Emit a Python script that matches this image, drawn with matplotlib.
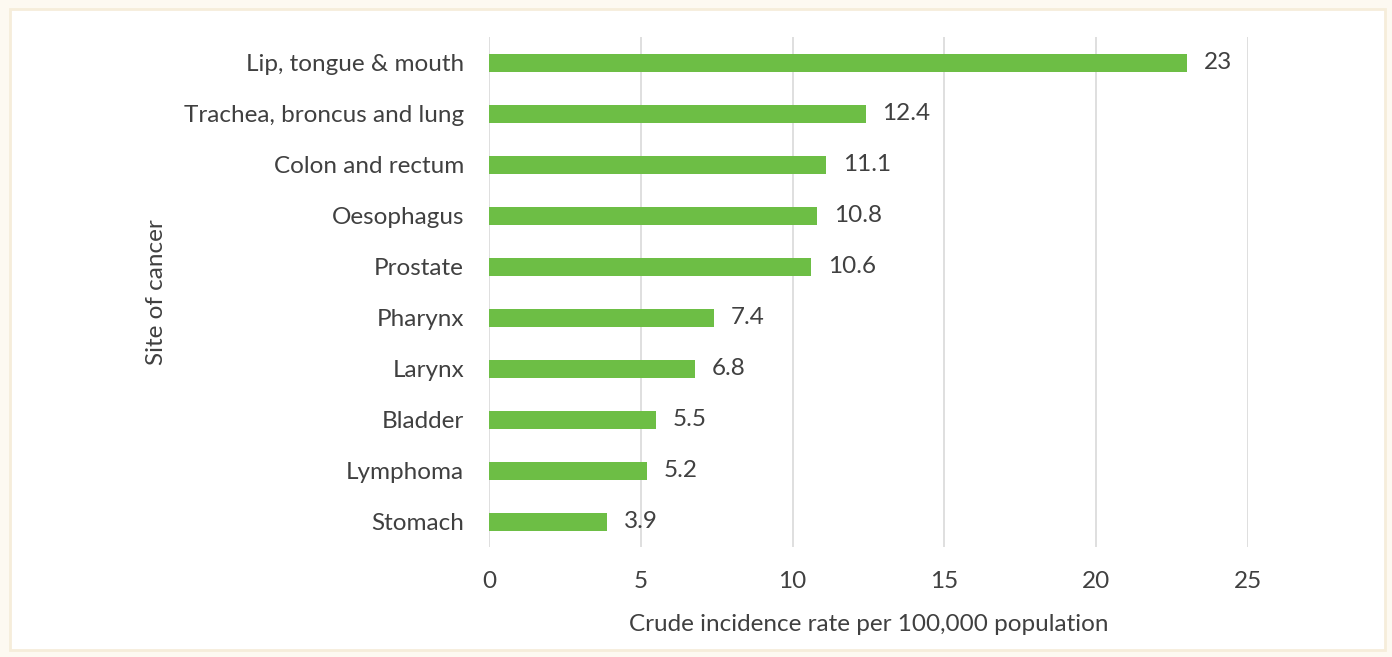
import matplotlib.pyplot as plt
from matplotlib.patches import Rectangle

plt.rcParams['font.family'] = ['Lato', 'DejaVu Sans']

sites = ["Lip, tongue & mouth", "Trachea, broncus and lung", "Colon and rectum",
         "Oesophagus", "Prostate", "Pharynx", "Larynx", "Bladder", "Lymphoma", "Stomach"]
rates = [23, 12.4, 11.1, 10.8, 10.6, 7.4, 6.8, 5.5, 5.2, 3.9]
rate_labels = ["23", "12.4", "11.1", "10.8", "10.6", "7.4", "6.8", "5.5", "5.2", "3.9"]
xticks = [0, 5, 10, 15, 20, 25]

text_col = "#404040"
fs = 17.5

fig = plt.figure(figsize=(13.92, 6.57), dpi=100, facecolor="#FDF9F1")
fig.patches.append(Rectangle((0.007, 0.011), 0.988, 0.975, transform=fig.transFigure,
                             facecolor="white", edgecolor="#F6EDDA", lw=2, zorder=-5))

ax = fig.add_axes([0.3513, 0.1667, 0.5453, 0.7763])
ax.set_zorder(2)
ax.set_facecolor("none")

ypos = list(range(len(sites)))
ax.barh(ypos, rates, height=0.37, color="#6DBE45", zorder=3)
for y, v, lab in zip(ypos, rates, rate_labels):
    ax.text(v + 0.55, y, lab, va="center", ha="left", fontsize=fs, color=text_col)

ax.set_xlim(0, 25)
ax.set_ylim(len(sites) - 0.5, -0.5)
ax.set_yticks(ypos)
ax.set_yticklabels(sites, fontsize=fs, color=text_col)
ax.set_xticks(xticks)
ax.set_xticklabels([str(t) for t in xticks], fontsize=fs, color=text_col)
ax.tick_params(length=0, pad=17, axis="x")
ax.tick_params(length=0, pad=18, axis="y")
ax.grid(axis="x", color="#D9D9D9", lw=1.2, zorder=0)
ax.set_axisbelow(True)
for s in ax.spines.values():
    s.set_visible(False)

ax.set_xlabel("Crude incidence rate per 100,000 population", fontsize=fs, color=text_col, labelpad=16)
ax.set_ylabel("Site of cancer", fontsize=fs, color=text_col, labelpad=12)

fig.savefig("out.png", dpi=100, facecolor=fig.get_facecolor())
